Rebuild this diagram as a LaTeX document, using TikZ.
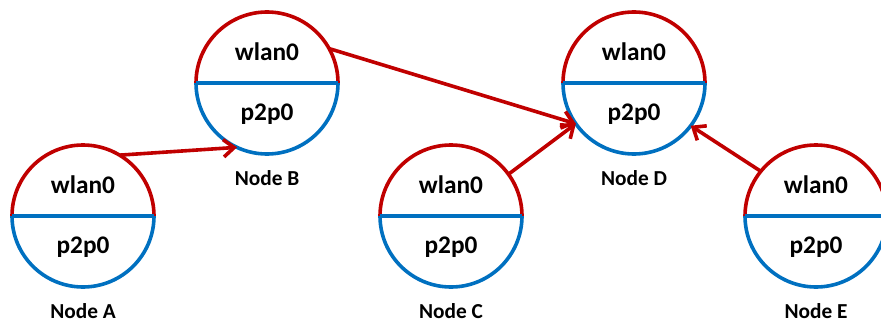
\documentclass[tikz,border=0pt]{standalone}
\usepackage{fontspec}
\setmainfont{Carlito}
\usetikzlibrary{arrows.meta}
\definecolor{wlanred}{HTML}{C00000}
\definecolor{p2pblue}{HTML}{0070C0}
\begin{document}
\begin{tikzpicture}[x=.75pt,y=.75pt,
        iface/.style={circle,minimum size=106.5pt,inner sep=0pt,outer sep=0pt},
        wlanline/.style={wlanred,line width=2.7pt},
        p2pline/.style={p2pblue,line width=2.7pt},
        link/.style={wlanred,line width=2.7pt,-{Straight Barb[length=8pt,width=13pt]}},
        iftext/.style={font=\bfseries\fontsize{19}{22}\selectfont},
        nametext/.style={font=\bfseries\fontsize{16}{19}\selectfont,inner sep=1pt}]

            % Fix the picture size
            \useasboundingbox (0,0) rectangle (881,322);

            % The five nodes, each split in wlan0 (top) and p2p0 (bottom)
            \foreach \n/\x/\y in {A/83/106,B/267/239,C/451/106,D/634/239,E/816/106} {
                \node[iface] (\n) at (\x,\y) {};
                \draw[wlanline] (\n.east) arc (0:180:71);
                \draw[p2pline] (\n.west) arc (180:360:71);
                \draw[p2pline] (\n.west) -- (\n.east);
                \node[iftext] (\n-wlan) at ([yshift=23.25pt]\n.center) {wlan0};
                \node[iftext] (\n-p2p) at ([yshift=-23.25pt]\n.center) {p2p0};
                \node[nametext] (\n-name) at ([yshift=-71pt]\n.center) {Node \n};
            }

            % Links between the nodes
            \draw[link] (A.59) -- (B.245);
            \draw[link] (B.29) -- (D.215);
            \draw[link] (C.36) -- (D.215);
            \draw[link] (E.141) -- (D.-37);

        \end{tikzpicture}
\end{document}
